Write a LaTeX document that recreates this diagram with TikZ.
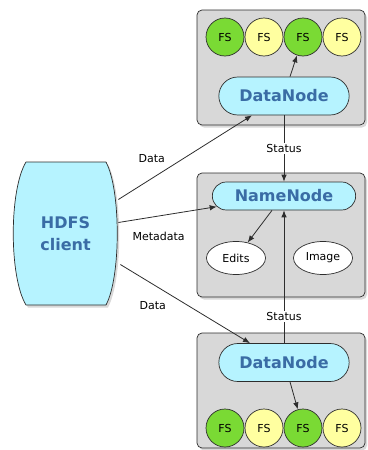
\documentclass[tikz,border=0pt]{standalone}
\usepackage{fontspec}
\setmainfont{DejaVu Sans}
\usetikzlibrary{positioning, arrows.meta, shapes.misc, shapes.geometric, shadows}
\definecolor{boxgray}{RGB}{216,216,216}
\definecolor{nodecyan}{RGB}{182,243,255}
\definecolor{nodeblue}{RGB}{58,108,165}
\definecolor{fsgreen}{RGB}{122,218,52}
\definecolor{fsyellow}{RGB}{255,255,160}
\definecolor{edgegray}{RGB}{45,45,45}

\begin{document}
\begin{tikzpicture}[
    x=1pt, y=-1pt,
    line width=0.7pt,
    every node/.style={font=\fontsize{11}{13}\selectfont},
    server/.style={rectangle, rounded corners=5pt, draw=edgegray, fill=boxgray, minimum width=168pt,
        drop shadow={opacity=0.3, shadow xshift=2pt, shadow yshift=-2.5pt}},
    daemon/.style={rounded rectangle, draw=edgegray, fill=nodecyan, text=nodeblue,
        font=\fontsize{16}{18}\selectfont\bfseries, minimum height=38pt},
    fs/.style={circle, draw=edgegray, minimum size=38pt, inner sep=0pt},
    store/.style={ellipse, draw=edgegray, fill=white, minimum width=59pt, minimum height=33pt},
    link/.style={draw=edgegray, line width=0.8pt, -{Latex[length=7pt, width=5.5pt]}},
    tag/.style={fill=white, inner sep=1.5pt}
]
    \useasboundingbox (0,0) rectangle (367,450);

    % Rahmen
    \node[server, minimum height=115pt] (top) at (281,67.5) {};
    \node[server, minimum height=124pt] (mid) at (281,235) {};
    \node[server, minimum height=115pt] (bot) at (281,390.5) {};

    % Client
    \draw[draw=edgegray, fill=nodecyan, line join=round,
        drop shadow={opacity=0.3, shadow xshift=2pt, shadow yshift=-2.5pt}]
        (26,162) -- (106,162) .. controls (121,190) and (121,277) .. (106,305)
        -- (26,305) .. controls (9,277) and (9,190) .. cycle;
    \node[minimum width=105pt, minimum height=143pt, align=center, text=nodeblue,
        font=\fontsize{16}{22}\selectfont\bfseries] (client) at (65.5,233.5) {HDFS\\client};

    % Daemons
    \node[daemon, minimum width=137pt] (dn1) at (284,96) {DataNode};
    \node[daemon, minimum width=150pt, minimum height=28pt] (nn) at (284,196) {NameNode};
    \node[daemon, minimum width=137pt] (dn2) at (284,362.5) {DataNode};

    \node[store] (edits) at (236,258) {Edits};
    \node[store] (image) at (323,258) {Image};

    % Blocks
    \node[fs, fill=fsgreen]  (fs11) at (225,37) {FS};
    \node[fs, fill=fsyellow] (fs12) at (264,37) {FS};
    \node[fs, fill=fsgreen]  (fs13) at (303,37) {FS};
    \node[fs, fill=fsyellow] (fs14) at (342,37) {FS};

    \node[fs, fill=fsgreen]  (fs21) at (225,428) {FS};
    \node[fs, fill=fsyellow] (fs22) at (264,428) {FS};
    \node[fs, fill=fsgreen]  (fs23) at (303,428) {FS};
    \node[fs, fill=fsyellow] (fs24) at (342,428) {FS};

    % Kanten
    \draw[link] ([yshift=34pt]client.east) -- node[pos=0.25, above=12pt] {Data} ([xshift=-32pt]dn1.south);
    \draw[link] ([yshift=11pt]client.east) -- node[pos=0.41, below=12pt] {Metadata} (nn.189);
    \draw[link] ([xshift=2pt, yshift=-31pt]client.east) -- node[pos=0.25, below=14pt] {Data} ([xshift=-34pt]dn2.north);

    \draw[link] (dn1.south) -- node[tag] {Status} (nn.north);
    \draw[link] (dn2.north) -- node[tag, pos=0.2] {Status} (nn.south);

    \draw[link] ([xshift=-12pt]nn.south) -- (edits);
    \draw[link] ([xshift=6pt]dn1.north) -- (fs13);
    \draw[link] ([xshift=6pt]dn2.south) -- (fs23);

\end{tikzpicture}
\end{document}
